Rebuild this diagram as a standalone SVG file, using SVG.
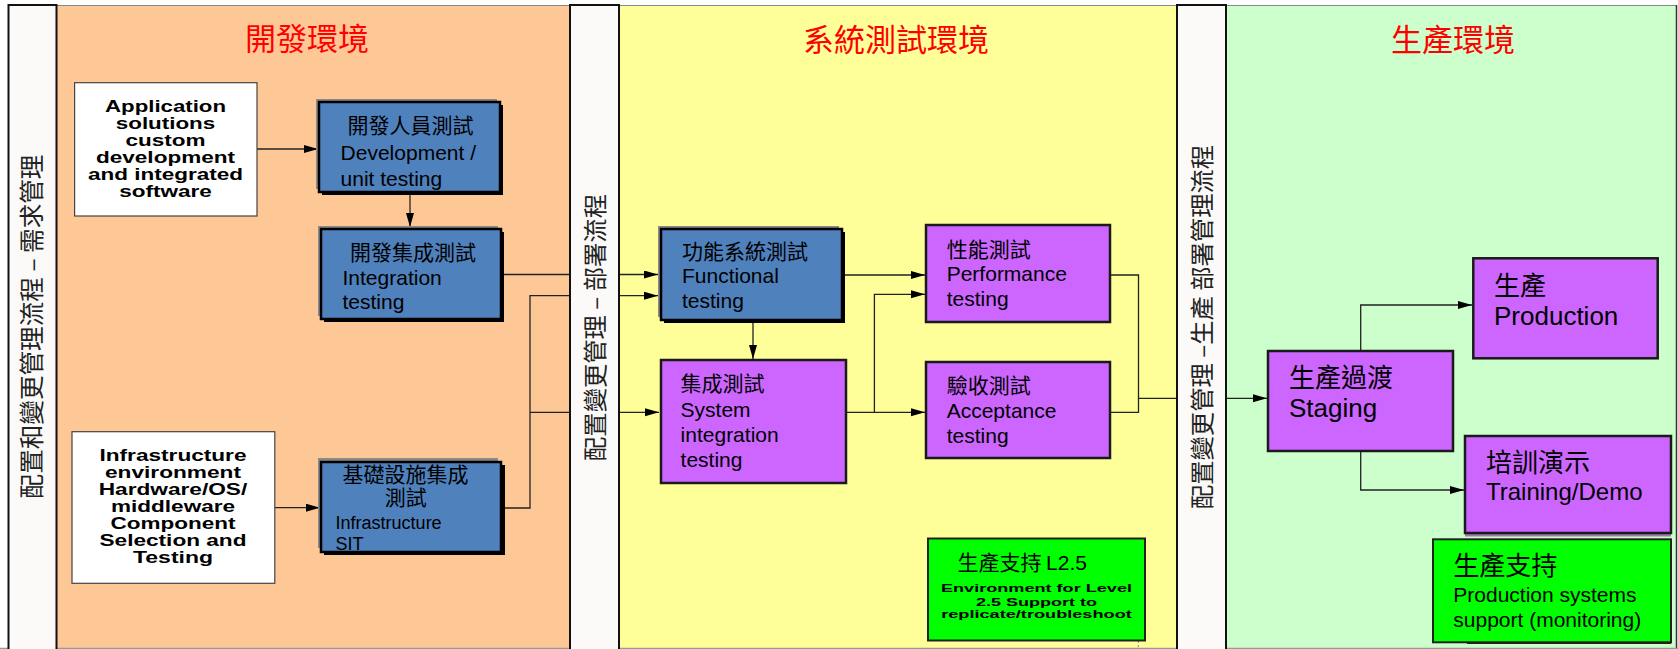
<svg xmlns="http://www.w3.org/2000/svg" width="1678" height="649" viewBox="0 0 1678 649">
<style>
.cjk{font-family:"Noto Sans CJK TC","Noto Sans CJK SC",sans-serif;}
.en{font-family:"Liberation Sans",Arial,sans-serif;}
.title{font-family:"Noto Sans CJK TC","Noto Sans CJK SC",sans-serif;font-size:31px;fill:#ff0000;text-anchor:middle;}
.bartxt{font-family:"Noto Sans CJK TC","Noto Sans CJK SC",sans-serif;font-size:24.3px;fill:#222;text-anchor:middle;}
.bar{fill:#fbfaf8;stroke:#111;stroke-width:2;}
.blue{fill:#4f81bd;stroke:#000;stroke-width:2.5;}
.sh-g{fill:#8a8a8a;}
.sh-k{fill:#000;}
.purple{fill:#cc66ff;stroke:#1a1a1a;stroke-width:2.5;}
.green{fill:#00ff00;stroke:#222;stroke-width:2;}
.white{fill:#fff;stroke:#444;stroke-width:1.2;}
.wb{font-family:"Liberation Sans",Arial,sans-serif;font-weight:bold;font-size:16px;fill:#000;text-anchor:middle;}
.sb{font-family:"Liberation Sans",Arial,sans-serif;font-weight:bold;font-size:11.5px;fill:#000;text-anchor:middle;}
.t21{font-size:21px;fill:#000;}
.t26{font-size:26px;fill:#000;}
.conn{fill:none;stroke:#222;stroke-width:1.3;}
</style>
<defs>
<marker id="arr" markerUnits="userSpaceOnUse" markerWidth="15" markerHeight="9" refX="14" refY="4" orient="auto">
<path d="M0,0 L14,4 L0,8 z" fill="#000"/>
</marker>
</defs>

<g id="panels">
<rect x="56" y="5.5" width="514" height="644" fill="#fec896"/>
<rect x="619" y="5.5" width="558" height="644" fill="#ffff99"/>
<rect x="1226" y="5.5" width="451" height="644" fill="#ccffcc"/>
<line x1="56" y1="5.5" x2="1677" y2="5.5" stroke="#888" stroke-width="1.2"/>
<line x1="1676.5" y1="5" x2="1676.5" y2="649" stroke="#333" stroke-width="1.5"/>
<line x1="0" y1="648.3" x2="1678" y2="648.3" stroke="#999" stroke-width="1.2"/>
<text class="title" x="307" y="50">開發環境</text>
<text class="title" x="896" y="51">系統測試環境</text>
<text class="title" x="1453" y="51">生產環境</text>
</g>

<g id="connectors">
<path class="conn" d="M257,149 H318" marker-end="url(#arr)"/>
<path class="conn" d="M410,195 V227" marker-end="url(#arr)"/>
<path class="conn" d="M504,274.5 H658" marker-end="url(#arr)"/>
<path class="conn" d="M505,508 H530 V295.7 H658" marker-end="url(#arr)"/>
<path class="conn" d="M530,412.3 H659" marker-end="url(#arr)"/>
<path class="conn" d="M275,507.7 H320" marker-end="url(#arr)"/>
<path class="conn" d="M753,323 V359" marker-end="url(#arr)"/>
<path class="conn" d="M845,275 H925" marker-end="url(#arr)"/>
<path class="conn" d="M846,412.3 H925" marker-end="url(#arr)"/>
<path class="conn" d="M874.4,412.3 V294.3 H925" marker-end="url(#arr)"/>
<path class="conn" d="M1110,275 H1138.5 V412.3 H1110"/>
<path class="conn" d="M1138.5,398.3 H1267" marker-end="url(#arr)"/>
<path class="conn" d="M1360.7,350.7 V305 H1472" marker-end="url(#arr)"/>
<path class="conn" d="M1360.7,451 V490 H1464" marker-end="url(#arr)"/>
<line x1="1138.3" y1="617" x2="1138.3" y2="649" stroke="#999" stroke-width="1.2" stroke-dasharray="2,2"/>
</g>

<g id="bar-left">
<rect class="bar" x="8.5" y="5" width="48" height="650"/>
<text class="bartxt" transform="translate(41,326.5) rotate(-90)" style="font-size:24.6px">配置和變更管理流程 – 需求管理</text>
</g>
<g id="bar-mid">
<rect class="bar" x="570" y="5" width="49" height="650"/>
<text class="bartxt" transform="translate(603.5,327.5) rotate(-90)">配置變更管理 – 部署流程</text>
</g>
<g id="bar-right">
<rect class="bar" x="1177" y="5" width="49" height="650"/>
<text class="bartxt" transform="translate(1210.5,327) rotate(-90)">配置變更管理 –生產 部署管理流程</text>
</g>

<g id="app-box">
<rect class="white" x="74.6" y="82.7" width="182.4" height="133.3"/>
<text class="wb" x="165.5" y="111.5" textLength="121" lengthAdjust="spacingAndGlyphs">Application</text>
<text class="wb" x="165.5" y="128.5" textLength="99.5" lengthAdjust="spacingAndGlyphs">solutions</text>
<text class="wb" x="165.5" y="145.5" textLength="80" lengthAdjust="spacingAndGlyphs">custom</text>
<text class="wb" x="165.5" y="162.5" textLength="139" lengthAdjust="spacingAndGlyphs">development</text>
<text class="wb" x="165.5" y="179.5" textLength="155" lengthAdjust="spacingAndGlyphs">and integrated</text>
<text class="wb" x="165.5" y="196.5" textLength="92.6" lengthAdjust="spacingAndGlyphs">software</text>
</g>

<g id="infra-box">
<rect class="white" x="72" y="431.7" width="202.8" height="151.6"/>
<text class="wb" x="173" y="460.7" textLength="147" lengthAdjust="spacingAndGlyphs">Infrastructure</text>
<text class="wb" x="173" y="477.7" textLength="136" lengthAdjust="spacingAndGlyphs">environment</text>
<text class="wb" x="173" y="494.7" textLength="148.5" lengthAdjust="spacingAndGlyphs">Hardware/OS/</text>
<text class="wb" x="173" y="511.5" textLength="124" lengthAdjust="spacingAndGlyphs">middleware</text>
<text class="wb" x="173" y="528.5" textLength="125" lengthAdjust="spacingAndGlyphs">Component</text>
<text class="wb" x="173" y="545.7" textLength="147" lengthAdjust="spacingAndGlyphs">Selection and</text>
<text class="wb" x="173" y="562.7" textLength="80" lengthAdjust="spacingAndGlyphs">Testing</text>
</g>

<g id="dev-test">
<rect class="sh-g" x="316" y="99" width="181" height="90"/>
<rect class="sh-k" x="322" y="105" width="181" height="90"/>
<rect class="blue" x="319" y="102" width="181" height="90"/>
<text class="cjk t21" x="347.5" y="133">開發人員測試</text>
<text class="en t21" x="340.6" y="159.5">Development /</text>
<text class="en t21" x="340.6" y="185.5">unit testing</text>
</g>

<g id="dev-int">
<rect class="sh-g" x="318" y="226" width="180" height="90"/>
<rect class="sh-k" x="324" y="232" width="180" height="90"/>
<rect class="blue" x="321" y="229" width="180" height="90"/>
<text class="cjk t21" x="350" y="260">開發集成測試</text>
<text class="en t21" x="342.5" y="285">Integration</text>
<text class="en t21" x="342.5" y="309">testing</text>
</g>

<g id="infra-sit">
<rect class="sh-g" x="318" y="458" width="180" height="90"/>
<rect class="sh-k" x="324" y="465" width="181" height="90"/>
<rect class="blue" x="321" y="462" width="180" height="90"/>
<text class="cjk t21" x="342.5" y="482">基礎設施集成</text>
<text class="cjk t21" x="405.7" y="505" text-anchor="middle">測試</text>
<text class="en" x="335.6" y="528.5" font-size="18">Infrastructure</text>
<text class="en" x="335.6" y="550" font-size="18">SIT</text>
</g>

<g id="functional">
<rect class="sh-g" x="658" y="226" width="181" height="91"/>
<rect class="sh-k" x="664" y="232" width="181" height="91"/>
<rect class="blue" x="661" y="229" width="181" height="91"/>
<text class="cjk t21" x="682" y="258.5">功能系統測試</text>
<text class="en t21" x="682" y="283">Functional</text>
<text class="en t21" x="682" y="307.5">testing</text>
</g>

<g id="sys-int">
<rect class="purple" x="661" y="360" width="185" height="123"/>
<text class="cjk t21" x="680.6" y="391">集成測試</text>
<text class="en t21" x="680.6" y="416.7">System</text>
<text class="en t21" x="680.6" y="442">integration</text>
<text class="en t21" x="680.6" y="466.7">testing</text>
</g>

<g id="performance">
<rect class="purple" x="926" y="225" width="184" height="97"/>
<text class="cjk t21" x="946.7" y="256.7">性能測試</text>
<text class="en t21" x="946.7" y="281">Performance</text>
<text class="en t21" x="946.7" y="306">testing</text>
</g>

<g id="acceptance">
<rect class="purple" x="926" y="362" width="184" height="96"/>
<text class="cjk t21" x="946.7" y="392.7">驗收測試</text>
<text class="en t21" x="946.7" y="417.7">Acceptance</text>
<text class="en t21" x="946.7" y="442.7">testing</text>
</g>

<g id="support-l25">
<rect class="green" x="928" y="538.5" width="217" height="102"/>
<text class="cjk t21" x="957.4" y="570">生產支持 <tspan class="en">L2.5</tspan></text>
<text class="sb" x="1036.5" y="591.7" textLength="191" lengthAdjust="spacingAndGlyphs">Environment for Level</text>
<text class="sb" x="1036.5" y="605.7" textLength="121" lengthAdjust="spacingAndGlyphs">2.5 Support to</text>
<text class="sb" x="1036.5" y="617.7" textLength="190.6" lengthAdjust="spacingAndGlyphs">replicate/troubleshoot</text>
</g>

<g id="staging">
<rect class="purple" x="1268" y="351" width="185" height="100"/>
<text class="cjk t26" x="1289" y="387">生產過渡</text>
<text class="en t26" x="1289" y="416.7">Staging</text>
</g>

<g id="production">
<rect class="purple" x="1473.3" y="258.3" width="184.4" height="100"/>
<text class="cjk t26" x="1494" y="295">生產</text>
<text class="en t26" x="1494" y="325">Production</text>
</g>

<g id="training">
<rect x="1465" y="533" width="206" height="3.5" fill="#9a7aa8"/>
<rect class="purple" x="1465" y="436" width="206" height="97"/>
<text class="cjk t26" x="1486" y="471.7">培訓演示</text>
<text class="en" x="1486" y="500" font-size="24">Training/Demo</text>
</g>

<g id="prod-support">
<rect x="1467" y="641" width="204" height="3" fill="#222"/>
<rect class="green" x="1433" y="539.3" width="238" height="103"/>
<text class="cjk t26" x="1453.3" y="575">生產支持</text>
<text class="en t21" x="1453.3" y="601.7">Production systems</text>
<text class="en t21" x="1453.3" y="626.7">support (monitoring)</text>
</g>
</svg>
